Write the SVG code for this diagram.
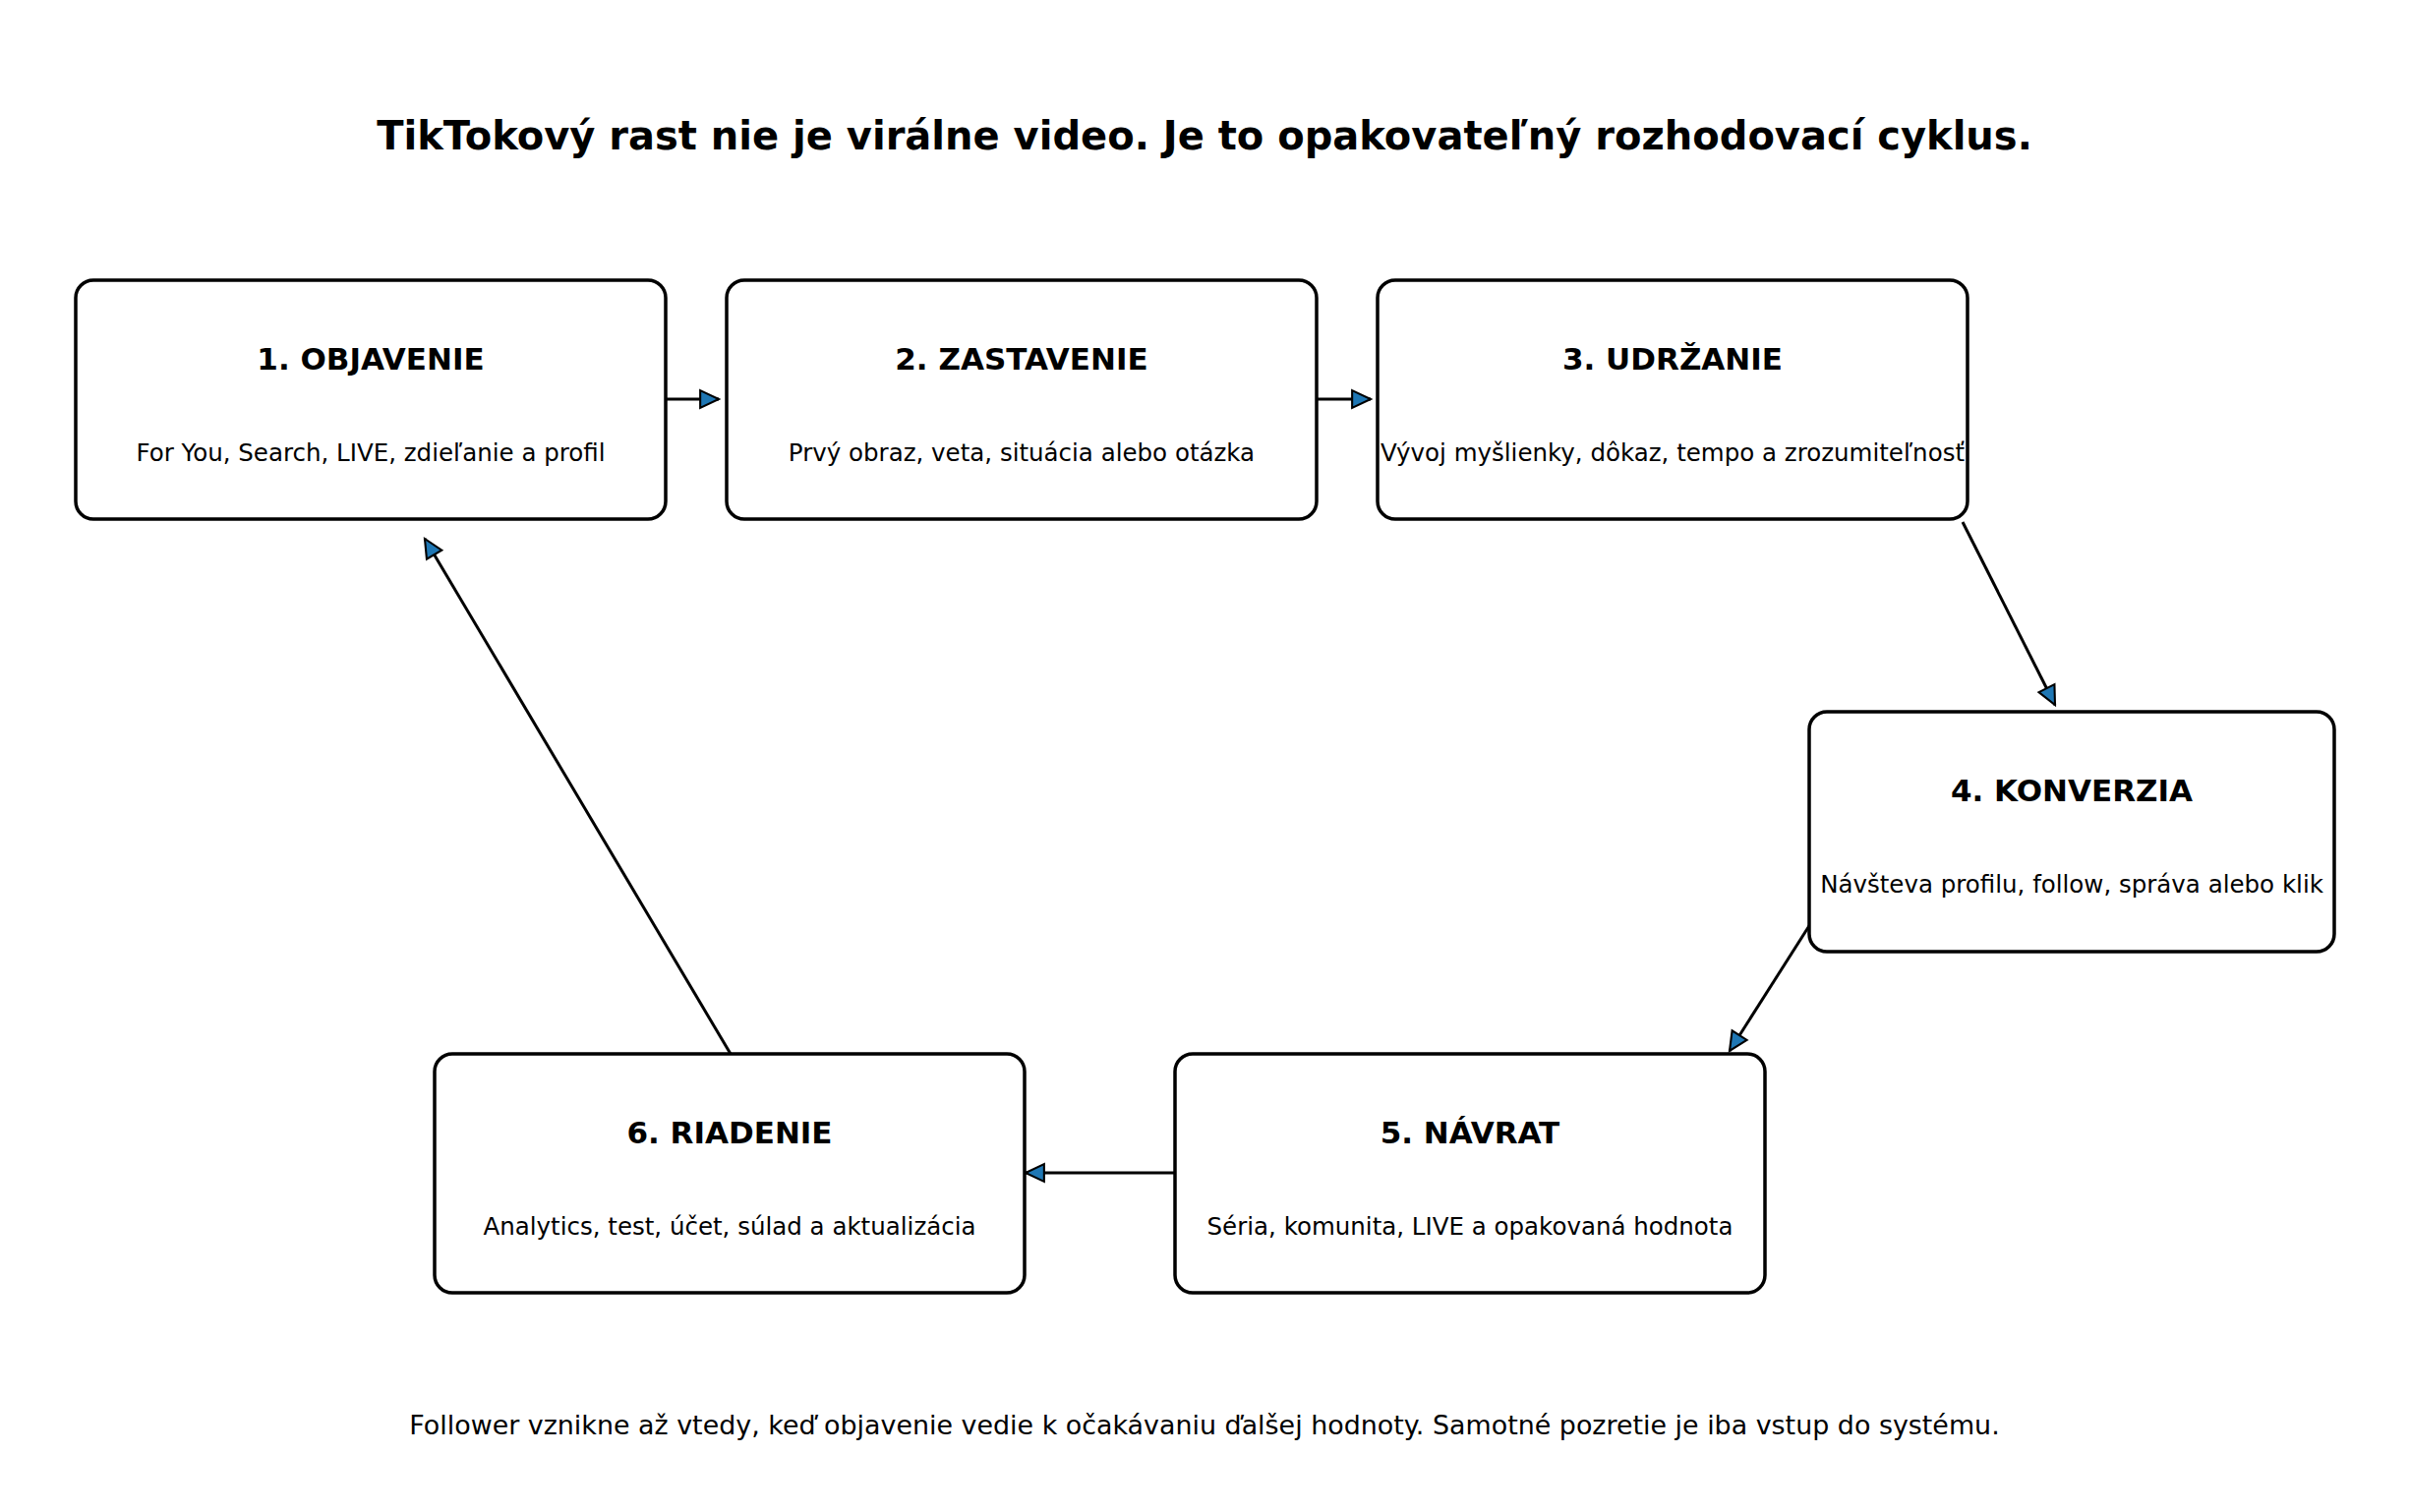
<svg xmlns="http://www.w3.org/2000/svg" width="2450" height="1538" viewBox="0 0 2450 1538">
<style>
  .box { fill: #ffffff; stroke: #000000; stroke-width: 3.5; }
  .ttl { font-family: "DejaVu Sans", sans-serif; font-weight: bold; font-size: 31px; text-anchor: middle; fill: #000; }
  .sub { font-family: "DejaVu Sans", sans-serif; font-size: 24.5px; text-anchor: middle; fill: #000; }
  .conn { stroke: #000; stroke-width: 3; fill: none; marker-end: url(#ah); }
</style>
<defs>
  <marker id="ah" markerUnits="userSpaceOnUse" markerWidth="24" markerHeight="22" viewBox="-2 -2 22 21" refX="18" refY="8.5" orient="auto">
    <path d="M0,0 L18,8.5 L0,17 Z" fill="#1f77b4" stroke="#000" stroke-width="2" stroke-linejoin="miter"/>
  </marker>
</defs>
<rect x="0" y="0" width="2450" height="1538" fill="#ffffff"/>
<text x="1225" y="152" font-family="DejaVu Sans, sans-serif" font-weight="bold" font-size="40" text-anchor="middle">TikTokový rast nie je virálne video. Je to opakovateľný rozhodovací cyklus.</text>
<g id="connectors">
  <line class="conn" x1="673" y1="406" x2="731" y2="406"/>
  <line class="conn" x1="1336" y1="406" x2="1394" y2="406"/>
  <line class="conn" x1="1996" y1="531" x2="2090" y2="717"/>
  <line class="conn" x1="1843" y1="937" x2="1759" y2="1069"/>
  <line class="conn" x1="1195" y1="1193" x2="1043" y2="1193"/>
  <line class="conn" x1="743" y1="1072" x2="432" y2="548"/>
</g>
<g id="node1">
  <rect class="box" x="77" y="285" width="600" height="243" rx="18"/>
  <text class="ttl" x="377" y="376">1. OBJAVENIE</text>
  <text class="sub" x="377" y="469">For You, Search, LIVE, zdieľanie a profil</text>
</g>
<g id="node2">
  <rect class="box" x="739" y="285" width="600" height="243" rx="18"/>
  <text class="ttl" x="1039" y="376">2. ZASTAVENIE</text>
  <text class="sub" x="1039" y="469">Prvý obraz, veta, situácia alebo otázka</text>
</g>
<g id="node3">
  <rect class="box" x="1401" y="285" width="600" height="243" rx="18"/>
  <text class="ttl" x="1701" y="376">3. UDRŽANIE</text>
  <text class="sub" x="1701" y="469">Vývoj myšlienky, dôkaz, tempo a zrozumiteľnosť</text>
</g>
<g id="node4">
  <rect class="box" x="1840" y="724" width="534" height="244" rx="18"/>
  <text class="ttl" x="2107" y="815">4. KONVERZIA</text>
  <text class="sub" x="2107" y="908">Návšteva profilu, follow, správa alebo klik</text>
</g>
<g id="node5">
  <rect class="box" x="1195" y="1072" width="600" height="243" rx="18"/>
  <text class="ttl" x="1495" y="1163">5. NÁVRAT</text>
  <text class="sub" x="1495" y="1256">Séria, komunita, LIVE a opakovaná hodnota</text>
</g>
<g id="node6">
  <rect class="box" x="442" y="1072" width="600" height="243" rx="18"/>
  <text class="ttl" x="742" y="1163">6. RIADENIE</text>
  <text class="sub" x="742" y="1256">Analytics, test, účet, súlad a aktualizácia</text>
</g>
<text x="1225" y="1459" font-family="DejaVu Sans, sans-serif" font-size="26.9" text-anchor="middle">Follower vznikne až vtedy, keď objavenie vedie k očakávaniu ďalšej hodnoty. Samotné pozretie je iba vstup do systému.</text>
</svg>
